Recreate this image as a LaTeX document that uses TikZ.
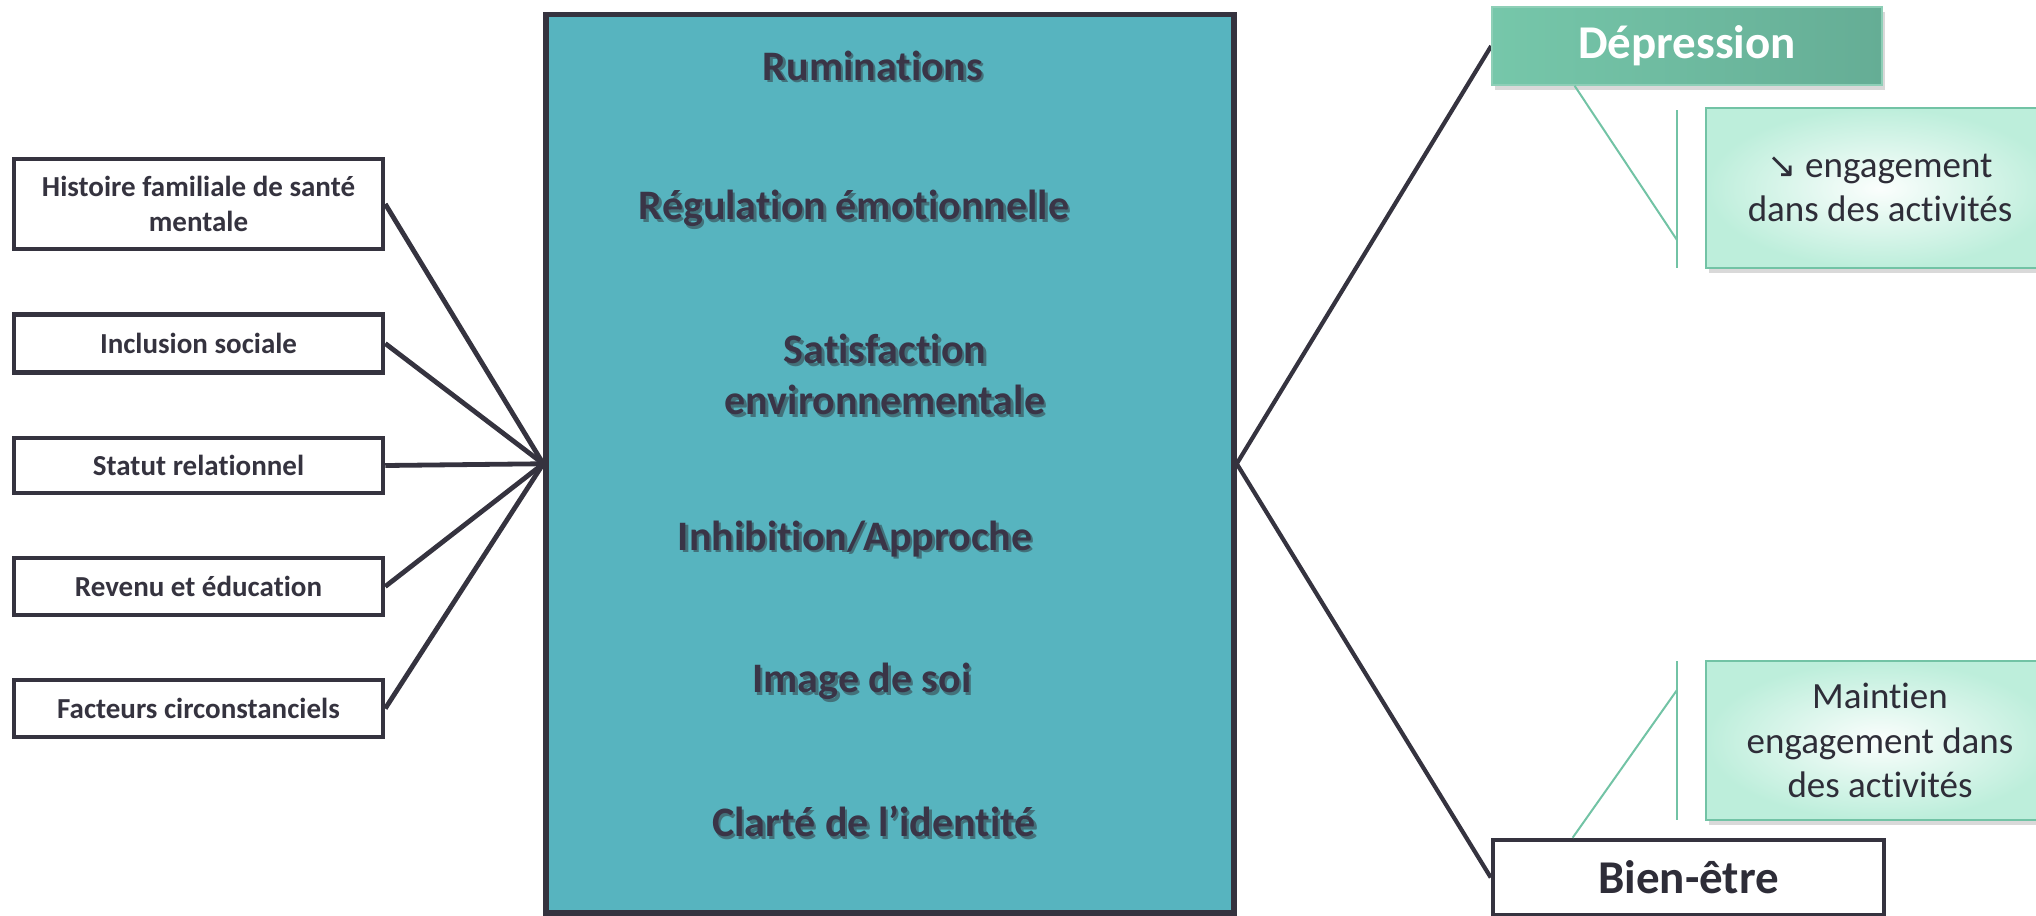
\documentclass[tikz,border=0pt]{standalone}
\usepackage{fontspec}
\setmainfont{Carlito}[Ligatures=NoCommon]
\newfontfamily\arrowfont{DejaVu Sans}
\usetikzlibrary{shadows,calc,backgrounds}
\definecolor{dk}{HTML}{35333F}
\definecolor{txtdk}{HTML}{3A3547}
\definecolor{tealc}{HTML}{57B4BF}
\definecolor{shc}{HTML}{43717A}
\definecolor{grn}{HTML}{72C3A5}
\definecolor{depL}{HTML}{76C7AA}
\definecolor{depM}{HTML}{C8EDDF}
\definecolor{depR}{HTML}{65AD95}
\definecolor{mint}{HTML}{BDEEDB}
\definecolor{rtxt}{HTML}{2E2D38}
\newcommand\shd[1]{\leavevmode\rlap{\kern1.2pt\raisebox{-1.4pt}{\textcolor{shc}{#1}}}#1}
\begin{document}
\begin{tikzpicture}[x=0.5pt,y=-0.5pt,
  leftbox/.style={draw=dk, line width=2.25pt, fill=white, minimum width=184.5pt,
    inner sep=0pt, align=center, text=dk,
    font=\fontsize{14.5}{17.4}\selectfont\bfseries},
  bigbox/.style={draw=dk, line width=2.75pt, fill=tealc, inner sep=0pt},
  bigtxt/.style={inner sep=0pt, align=center, text=txtdk,
    font=\fontsize{21}{25.2}\selectfont\bfseries},
  conn/.style={draw=dk, line width=2.4pt},
  rconn/.style={draw=dk, line width=2.1pt},
  depbox/.style={draw=grn!80!white, line width=0.8pt, left color=depL, middle color=depM,
    right color=depR, minimum width=195pt, minimum height=39pt, inner sep=0pt,
    text=white, font=\fontsize{23.5}{28}\selectfont\bfseries,
    drop shadow={shadow xshift=1.5pt, shadow yshift=-2.5pt, opacity=0.3}},
  bienbox/.style={draw=dk, line width=2.25pt, fill=white, minimum width=195.5pt,
    minimum height=37.5pt, inner sep=0pt, text=rtxt,
    font=\fontsize{23.5}{28}\selectfont\bfseries},
  subbox/.style={draw=grn, line width=1pt, inner color=white!94!mint, outer color=mint,
    minimum width=174pt, inner sep=0pt, align=center, text=rtxt,
    font=\fontsize{18.5}{22.2}\selectfont,
    drop shadow={shadow xshift=1.5pt, shadow yshift=-2.5pt, opacity=0.3}},
  gline/.style={draw=grn, line width=1pt}]
\useasboundingbox (0,0) rectangle (2036,916);
\clip (0,0) rectangle (2036,916);

% left boxes
\node[leftbox, minimum height=45pt]   (h1) at (198.5,204)   {Histoire familiale de santé\\mentale};
\node[leftbox, minimum height=29pt]   (h2) at (198.5,343.5) {Inclusion sociale};
\node[leftbox, minimum height=27.5pt] (h3) at (198.5,465.5) {Statut relationnel};
\node[leftbox, minimum height=28.5pt] (h4) at (198.5,586.5) {Revenu et éducation};
\node[leftbox, minimum height=28.5pt] (h5) at (198.5,708.5) {Facteurs circonstanciels};

% central box
\node[bigbox, minimum width=344pt, minimum height=449.25pt] (big) at (890,463.75) {};
\node[bigtxt] (t1) at (873,67)  {\shd{Ruminations}};
\node[bigtxt] (t2) at (854,210) {\shd{Régulation émotionnelle}};
\node[bigtxt] (t3) at (885,376) {\shd{Satisfaction}\\\shd{environnementale}};
\node[bigtxt] (t4) at (855,540) {\shd{Inhibition/Approche}};
\node[bigtxt] (t5) at (862,683) {\shd{Image de soi}};
\node[bigtxt] (t6) at (874,823) {\shd{Clarté de l’identité}};

% right side
\node[depbox]  (dep)  at (1687,46)     {Dépression};
\node[bienbox] (bien) at (1688.5,877.5) {Bien-être};
\node[subbox, minimum height=80pt]   (s1) at (1880,188)   {{\arrowfont\fontsize{17.5}{18}\selectfont ↘} engagement\\dans des activités};
\node[subbox, minimum height=79.5pt] (s2) at (1880,740.5) {Maintien\\engagement dans\\des activités};

% green hierarchy lines
\coordinate (v1t) at (1677,110);
\coordinate (v1b) at (1677,268);
\coordinate (m1)  at (1677,240);
\coordinate (d1)  at ($(dep.south west)!0.213!(dep.south east)$);
\draw[gline] (v1t) -- (v1b);
\draw[gline] (d1) -- (m1);
\coordinate (v2t) at (1677,661);
\coordinate (v2b) at (1677,820);
\coordinate (m2)  at (1677,690);
\coordinate (b1)  at ($(bien.north west)!0.207!(bien.north east)$);
\draw[gline] (v2t) -- (v2b);
\draw[gline] (b1) -- (m2);

% connectors
\begin{scope}[on background layer]
\foreach \n in {h1,h2,h3,h4,h5}
  \draw[conn] (\n.east) -- (big.west);
\draw[rconn] (big.east) -- (dep.west);
\draw[rconn] (big.east) -- (bien.west);
\end{scope}
\end{tikzpicture}
\end{document}
